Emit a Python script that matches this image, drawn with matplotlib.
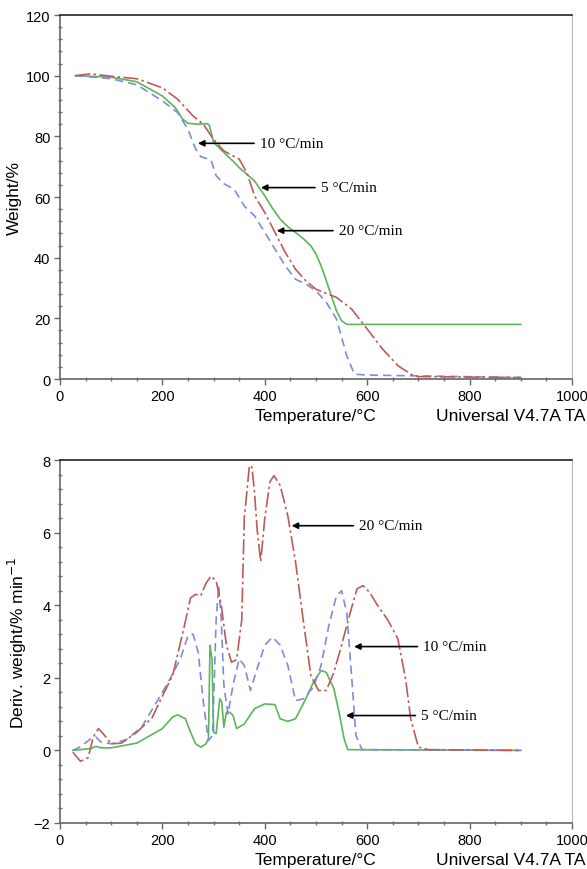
import matplotlib.pyplot as plt
from matplotlib.ticker import MultipleLocator

plt.rcParams['font.family'] = ['Liberation Sans', 'DejaVu Sans']

# TGA curves (weight %)
t5 = [30, 100, 150, 200, 225, 240, 250, 270, 288, 292, 300, 320, 340, 350, 365, 380, 400, 415, 430, 445, 460, 475, 490, 500,
      510, 520, 530, 540, 550, 560, 900]
w5 = [100, 99.5, 98, 93.3, 89.5, 85.6, 84.3, 84.0, 84.2, 83.5, 78, 74.7, 71.5, 69.7, 67.5, 65.3, 60.4, 56.3, 52.7, 50.2, 48.3, 46.3,
      43.9, 41.2, 37.3, 32.5, 27.4, 22.5, 19.2, 18, 18]

t10 = [30, 100, 150, 200, 230, 250, 265, 275, 295, 305, 320, 340, 360, 380, 400, 420, 440, 460, 480, 500, 520, 540, 560, 575, 600, 900]
w10 = [100, 99, 97, 91.7, 87.8, 82.3, 75.8, 73.3, 72.2, 67, 64.4, 62.6, 57, 53.8, 48.3, 42.8, 37.3, 32.9, 31.3, 29.1, 25.3, 19.8, 7.7, 1.6, 1.3, 0.5]

t20 = [30, 60, 100, 150, 200, 230, 260, 280, 300, 320, 350, 365, 380, 400, 420, 440, 460, 480, 500, 540, 570, 600, 630, 660, 690, 700, 900]
w20 = [100, 100.6, 99.8, 99, 96, 92.2, 86.7, 84, 79, 75.2, 72.5, 68, 60.4, 54.9, 48.3, 41.7, 36.2, 32.4, 29.6, 26.9, 23, 16.5, 9.9, 4.4, 1.1, 0.8, 0.5]

# DTG curves (deriv. weight %/min)
d5_t = [25, 60, 70, 80, 100, 150, 200, 220, 230, 245, 255, 265, 275, 285, 290, 293, 297, 300, 305, 312, 316, 320, 325, 332, 338, 345,
        360, 380, 400, 420, 430, 445, 460, 480, 495, 510, 520, 535, 545, 555, 562, 900]
d5 = [0.0, 0.05, 0.11, 0.07, 0.07, 0.2, 0.6, 0.92, 0.98, 0.87, 0.5, 0.18, 0.09, 0.18, 0.32, 2.9, 2.5, 0.5, 0.46, 1.42, 1.33, 0.64, 1.05, 1.05, 0.96, 0.6,
      0.73, 1.15, 1.28, 1.26, 0.87, 0.8, 0.87, 1.42, 1.88, 2.2, 2.15, 1.7, 1.05, 0.32, 0.02, 0.0]

d10_t = [25, 40, 60, 70, 80, 100, 130, 160, 200, 220, 235, 250, 260, 270, 280, 290, 298, 305, 310, 315, 320, 328, 338, 350, 360, 372,
         385, 400, 415, 430, 445, 460, 475, 495, 510, 525, 540, 550, 560, 570, 578, 590, 900]
d10 = [0.0, 0.1, 0.32, 0.37, 0.23, 0.18, 0.3, 0.65, 1.6, 2.1, 2.52, 3.16, 3.2, 2.7, 1.33, 0.27, 0.41, 3.6, 4.54, 3.6, 1.8, 1.0, 1.8, 2.52, 2.34, 1.65,
       2.25, 2.9, 3.12, 2.9, 2.34, 1.37, 1.42, 1.74, 2.34, 3.44, 4.26, 4.4, 3.8, 1.97, 0.41, 0.02, 0.0]

d20_t = [25, 40, 55, 65, 75, 85, 100, 120, 150, 180, 200, 220, 240, 255, 265, 275, 285, 295, 305, 315, 325, 335, 345, 355, 360, 370,
         375, 380, 385, 392, 400, 410, 418, 430, 445, 460, 475, 490, 505, 520, 535, 550, 565, 580, 592, 605, 620, 640, 660, 675, 685,
         700, 720, 900]
d20 = [-0.05, -0.3, -0.2, 0.37, 0.6, 0.45, 0.18, 0.2, 0.5, 0.9, 1.5, 2.06, 3.25, 4.2, 4.3, 4.26, 4.6, 4.8, 4.67, 4.0, 2.9, 2.43, 2.5, 3.6, 6.4, 7.85,
       7.8, 7.1, 6.1, 5.2, 6.4, 7.4, 7.57, 7.3, 6.46, 5.2, 3.6, 2.06, 1.65, 1.65, 2.15, 2.9, 3.7, 4.45, 4.54, 4.35, 4.0, 3.6, 3.07, 1.97, 0.87,
       0.09, 0.02, 0.0]

green = '#5bb55b'
blue = '#7d8be0'
red = '#bf5a55'

fig = plt.figure(figsize=(5.87, 8.70), dpi=100)
ax1 = fig.add_axes([0.1022, 0.5632, 0.8722, 0.4184])
ax2 = fig.add_axes([0.1022, 0.0529, 0.8722, 0.4172])


def style(ax, ymin, ymax, ystep, yminor):
    ax.set_xlim(0, 1000)
    ax.set_ylim(ymin, ymax)
    ax.xaxis.set_major_locator(MultipleLocator(200))
    ax.xaxis.set_minor_locator(MultipleLocator(50))
    ax.yaxis.set_major_locator(MultipleLocator(ystep))
    ax.yaxis.set_minor_locator(MultipleLocator(yminor))
    ax.tick_params(which='major', direction='out', length=4, width=1, color='#666666', labelsize=10.5, pad=3)
    ax.tick_params(which='minor', direction='inout', length=3, width=1, color='#777777')
    for s in ['left', 'bottom']:
        ax.spines[s].set_color('#666666')
        ax.spines[s].set_linewidth(1.2)
    ax.spines['top'].set_color('#222222')
    ax.spines['top'].set_linewidth(1.2)
    ax.spines['right'].set_color('#bbbbbb')
    ax.set_xlabel('Temperature/°C', fontsize=12.5)
    ax.xaxis.set_label_coords(0.5, -0.1)
    ax.xaxis.label.set_va('center')
    ax.text(1.026, -0.1, 'Universal V4.7A TA', transform=ax.transAxes, ha='right', va='center', fontsize=12.5)


style(ax1, 0, 120, 20, 4)
style(ax2, -2, 8, 2, 0.4)

ax1.plot(t5, w5, color=green, lw=1.2)
ax1.plot(t10, w10, color=blue, lw=1.2, ls=(0, (5, 3)))
ax1.plot(t20, w20, color=red, lw=1.2, ls=(0, (9, 2, 1.5, 2)))
ax1.set_ylabel('Weight/%', fontsize=12.5, labelpad=3)

ax2.plot(d5_t, d5, color=green, lw=1.2)
ax2.plot(d10_t, d10, color=blue, lw=1.2, ls=(0, (5, 3)))
ax2.plot(d20_t, d20, color=red, lw=1.2, ls=(0, (9, 2, 1.5, 2)))
ax2.set_ylabel('Deriv. weight/% min$^{-1}$', fontsize=12.5, labelpad=3)

arrow = dict(arrowstyle='-|>', color='black', lw=1.2, mutation_scale=9)
serif = dict(family=['Liberation Serif', 'DejaVu Serif'], fontsize=11, va='center')

for ax, notes in [(ax1, [('10 °C/min', 264, 77.7, 390),
                         ('5 °C/min', 387, 63.1, 509),
                         ('20 °C/min', 418, 48.9, 544)]),
                  (ax2, [('20 °C/min', 447, 6.19, 584),
                         ('10 °C/min', 569, 2.86, 709),
                         ('5 °C/min', 553, 0.96, 705)])]:
    for label, hx, hy, tx in notes:
        ax.annotate(label, xy=(hx, hy), xytext=(tx, hy), arrowprops=arrow, **serif)

fig.savefig('out.png', dpi=100)
